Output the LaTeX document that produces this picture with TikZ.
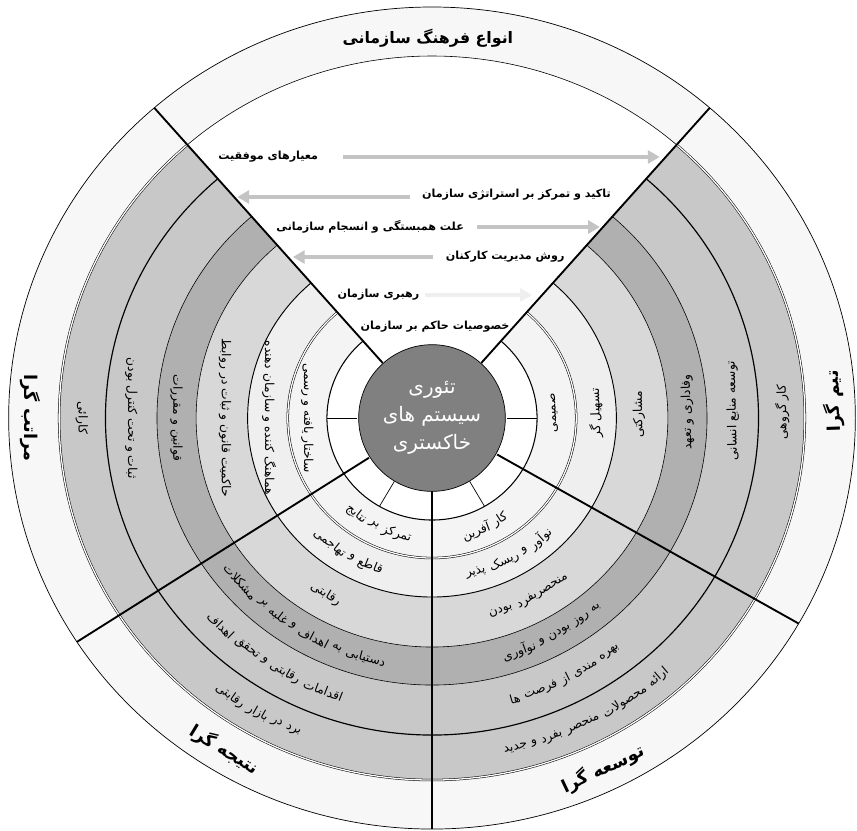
\documentclass[tikz,border=0pt]{standalone}
\usepackage{fontspec}
\newfontfamily\farsi[Script=Arabic]{DejaVu Sans}
\TeXXeTstate=1
\usetikzlibrary{arrows.meta}

\definecolor{ringA}{HTML}{F7F7F7}
\definecolor{ringB}{HTML}{C8C8C8}
\definecolor{ringC}{HTML}{B0B0B0}
\definecolor{ringD}{HTML}{D8D8D8}
\definecolor{ringE}{HTML}{EFEFEF}
\definecolor{ringF}{HTML}{F4F4F4}
\definecolor{hubgray}{HTML}{808080}
\definecolor{guidegray}{HTML}{C4C4C4}

\newcommand{\fatxt}[1]{\beginR #1\endR}
\newcommand{\bandfont}{\farsi\fontsize{10.5}{12}\selectfont}
\newdimen\wordlen
\newsavebox{\wordbox}

\tikzset{
  band/.style={font=\bandfont, inner sep=0.5pt},
  sectitle/.style={font=\farsi\bfseries\fontsize{15}{17}\selectfont, inner sep=0.5pt},
  maintitle/.style={font=\farsi\bfseries\fontsize{13.5}{16}\selectfont, inner sep=0.5pt},
  toplabel/.style={font=\farsi\bfseries\fontsize{9.5}{11}\selectfont, inner sep=0.5pt},
  guide/.style={draw=guidegray, line width=3.4pt, -{Triangle[length=10pt,width=11pt]}},
  divider/.style={line width=1.6pt},
  twin/.style={double, double distance=1.1pt, line width=0.45pt},
  hubdisk/.style={circle, draw, line width=0.6pt, fill=hubgray, text=white,
    minimum size=4.4cm, align=center, font=\farsi\fontsize{17}{24}\selectfont}
}

% words set one by one along a ring
% #1 centre angle, #2 radius, #3 name, #4 words in reading order
\newcommand{\wordwidth}[1]{%
  \pgfinterruptpicture
    \sbox{\wordbox}{\bandfont\beginR#1\endR}%
    \global\wordlen=\wd\wordbox
  \endpgfinterruptpicture}
\newcommand{\arcwords}[4]{%
  \gdef\arcsum{0}%
  \foreach \wrd in {#4}{%
    \wordwidth{\wrd}%
    \pgfmathsetmacro{\arctmp}{\arcsum+\the\wordlen+3.4}%
    \xdef\arcsum{\arctmp}%
  }%
  \pgfmathsetmacro{\arctmp}{(\arcsum-3.4)/2}%
  \xdef\arcpos{\arctmp}%
  \foreach \wrd [count=\wn] in {#4}{%
    \wordwidth{\wrd}%
    \pgfmathsetmacro{\wang}{#1+(\arcpos-0.5*\the\wordlen)/(#2*0.8536)*180/pi}%
    \node[band, rotate=\wang+90] (#3-\wn) at (\wang:#2) {\fatxt{\wrd}};
    \pgfmathsetmacro{\arctmp}{\arcpos-\the\wordlen-3.4}%
    \xdef\arcpos{\arctmp}%
  }%
}

\begin{document}
\begin{tikzpicture}[x=0.0309cm,y=0.03cm]
\useasboundingbox (-419.4,-412) rectangle (412.6,418);

% rings, outside in
\fill[ringA] (0,0) circle (411);
\fill[ringB] (0,0) circle (362);
\fill[ringC] (0,0) circle (267);
\fill[ringD] (0,0) circle (229);
\fill[ringE] (0,0) circle (179);
\fill[ringF] (0,0) circle (140);
\fill[white] (0,0) circle (102);
\fill[white] (0,0) -- (49:362) arc[start angle=49,end angle=131,radius=362] -- cycle;

% ring borders
\draw[line width=0.6pt] (0,0) circle (411);
\draw[line width=0.5pt] (49:362) arc[start angle=49,end angle=131,radius=362];
\foreach \r/\w in {102/0.9pt,179/0.8pt,229/0.5pt,267/0.5pt,317/1pt}
  \draw[line width=\w] (131:\r) arc[start angle=131,end angle=409,radius=\r];
\foreach \r in {140,362}
  \draw[twin] (131:\r) arc[start angle=131,end angle=409,radius=\r];

% spokes
\foreach \a in {0,180,240,300}
  \draw[line width=0.6pt] (\a:73) -- (\a:102);
\foreach \a in {49,131,213,270,330}
  \draw[divider] (\a:73) -- (\a:411);

\node[hubdisk] (hub) at (0,0) {\fatxt{تئوری}\\\fatxt{سیستم های}\\\fatxt{خاکستری}};

% title and top labels
\node[maintitle] (title) at (-4,380) {\fatxt{انواع فرهنگ سازمانی}};
\node[toplabel] (crit) at (-159,261) {\fatxt{معیارهای موفقیت}};
\node[toplabel] (strat) at (82,223) {\fatxt{تاکید و تمرکز بر استراتژی سازمان}};
\node[toplabel] (unity) at (-60,191) {\fatxt{علت همبستگی و انسجام سازمانی}};
\node[toplabel] (staff) at (71,161) {\fatxt{روش مدیریت کارکنان}};
\node[toplabel] (lead) at (-52,123) {\fatxt{رهبری سازمان}};
\node[toplabel] (traits) at (3,91) {\fatxt{خصوصیات حاکم بر سازمان}};

\coordinate (critS) at (-86,261);  \coordinate (critT) at (221,261);
\coordinate (stratS) at (-21,221); \coordinate (stratT) at (-189,221);
\coordinate (unityS) at (44,191);  \coordinate (unityT) at (163,191);
\coordinate (staffS) at (1,161);   \coordinate (staffT) at (-135,161);
\coordinate (leadS) at (-7,123);   \coordinate (leadT) at (97,123);
\draw[guide] (critS) -- (critT);
\draw[guide] (stratS) -- (stratT);
\draw[guide] (unityS) -- (unityT);
\draw[guide] (staffS) -- (staffT);
\draw[guide, draw=ringE, line width=2.8pt] (leadS) -- (leadT);

% left sector
\node[sectitle, rotate=270] (hierT) at (180:390) {\fatxt{مراتب گرا}};
\foreach \a/\r/\lbl [count=\k] in {180/340/کارائی, 180/292/ثبات و تحت کنترل بودن,
    180/248/قوانین و مقررات, 180/201/حاکمیت قانون و ثبات در روابط,
    180/158/هماهنگ کننده و سازمان دهنده, 180/121/ساختار یافته و رسمی}
  \node[band, rotate=\a+90] (hier\k) at (\a:\r) {\fatxt{\lbl}};

% right sector
\node[sectitle, rotate=92] (teamT) at (2.5:390) {\fatxt{تیم گرا}};
\foreach \a/\r/\lbl [count=\k] in {1/340/کار گروهی, 1.4/292/توسعه منابع انسانی,
    1.4/248/وفاداری و تعهد, 1/201/مشارکتی, 1.8/159/تسهیل گر, 2.5/119/صمیمی}
  \node[band, rotate=\a+90] (team\k) at (\a:\r) {\fatxt{\lbl}};

% bottom left sector
\node[sectitle, rotate=328.7] (resT) at (238.7:388) {\fatxt{نتیجه گرا}};
\arcwords{240}{340}{res1}{برد,در,بازار,رقابتی}
\arcwords{237.5}{292}{res2}{اقدامات,رقابتی,و,تحقق,اهداف}
\arcwords{238}{248}{res3}{دستیابی,به,اهداف,و,غلبه,بر,مشکلات}
\arcwords{239.6}{204}{res4}{رقابتی}
\arcwords{238.7}{160}{res5}{قاطع,و,تهاجمی}
\arcwords{244}{121}{res6}{تمرکز,بر,نتایج}

% bottom right sector
\node[sectitle, rotate=25.3] (devT) at (295.3:388) {\fatxt{توسعه گرا}};
\arcwords{297}{340}{dev1}{ارائه,محصولات,منحصر,بفرد,و,جدید}
\arcwords{296.7}{292}{dev2}{بهره,مندی,از,فرصت,ها}
\arcwords{298.5}{248}{dev3}{به,روز,بودن,و,نوآوری}
\arcwords{297.8}{204}{dev4}{منحصربفرد,بودن}
\arcwords{298.7}{160}{dev5}{نوآور,و,ریسک,پذیر}
\arcwords{295.3}{121}{dev6}{کار,آفرین}
\end{tikzpicture}
\end{document}
